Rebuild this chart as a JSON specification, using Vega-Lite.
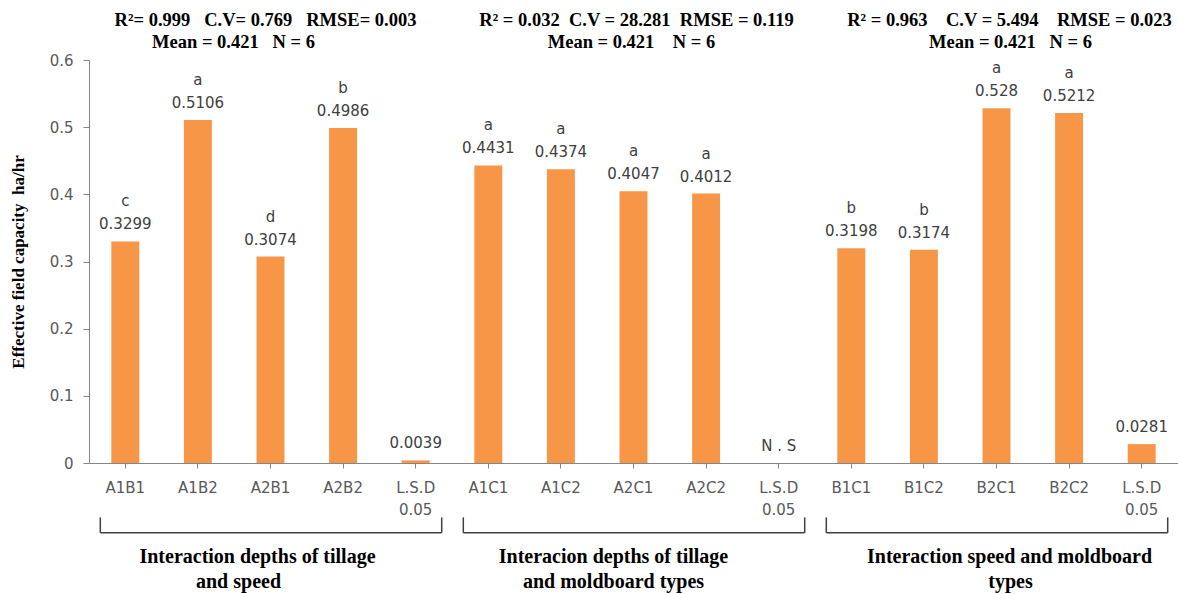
{
  "$schema": "https://vega.github.io/schema/vega-lite/v6.json",
  "width": 1089,
  "height": 403,
  "autosize": {"type": "none"},
  "padding": {"left": 89, "top": 60, "right": 0, "bottom": 131},
  "background": "white",
  "config": {"view": {"stroke": null}},
  "datasets": {
    "bars": [
      {"key": "A1B1", "value": 0.3299, "letter": "c", "text": "0.3299"},
      {"key": "A1B2", "value": 0.5106, "letter": "a", "text": "0.5106"},
      {"key": "A2B1", "value": 0.3074, "letter": "d", "text": "0.3074"},
      {"key": "A2B2", "value": 0.4986, "letter": "b", "text": "0.4986"},
      {"key": "LSD1", "value": 0.0039, "letter": "", "text": "0.0039"},
      {"key": "A1C1", "value": 0.4431, "letter": "a", "text": "0.4431"},
      {"key": "A1C2", "value": 0.4374, "letter": "a", "text": "0.4374"},
      {"key": "A2C1", "value": 0.4047, "letter": "a", "text": "0.4047"},
      {"key": "A2C2", "value": 0.4012, "letter": "a", "text": "0.4012"},
      {"key": "LSD2", "value": 0, "letter": "", "text": "N . S"},
      {"key": "B1C1", "value": 0.3198, "letter": "b", "text": "0.3198"},
      {"key": "B1C2", "value": 0.3174, "letter": "b", "text": "0.3174"},
      {"key": "B2C1", "value": 0.528, "letter": "a", "text": "0.528"},
      {"key": "B2C2", "value": 0.5212, "letter": "a", "text": "0.5212"},
      {"key": "LSD3", "value": 0.0281, "letter": "", "text": "0.0281"}
    ],
    "groups": [
      {"group": "g1", "first": "A1B1", "last": "LSD1", "mid": "A2B1",
       "t1": "Interaction depths of tillage", "t2": "and speed",
       "s1": "R²= 0.999\u00a0\u00a0 C.V= 0.769\u00a0\u00a0 RMSE= 0.003", "s2": "Mean = 0.421\u00a0\u00a0 N = 6"},
      {"group": "g2", "first": "A1C1", "last": "LSD2", "mid": "A2C1",
       "t1": "Interacion depths of tillage", "t2": "and moldboard types",
       "s1": "R² = 0.032\u00a0 C.V = 28.281\u00a0 RMSE = 0.119", "s2": "Mean = 0.421\u00a0\u00a0\u00a0 N = 6"},
      {"group": "g3", "first": "B1C1", "last": "LSD3", "mid": "B2C1",
       "t1": "Interaction speed and moldboard", "t2": "types",
       "s1": "R² = 0.963\u00a0\u00a0\u00a0 C.V = 5.494\u00a0\u00a0\u00a0 RMSE = 0.023", "s2": "Mean = 0.421\u00a0\u00a0 N = 6"}
    ]
  },
  "layer": [
    {
      "data": {"name": "bars"},
      "mark": {"type": "bar", "color": "#F79646"},
      "encoding": {
        "x": {
          "field": "key", "type": "nominal", "sort": null,
          "scale": {"paddingInner": 0.615, "paddingOuter": 0.3075},
          "axis": {
            "title": null,
            "labelAngle": 0,
            "labelExpr": "indexof(datum.value,'LSD')==0 ? ['L.S.D','0.05'] : datum.value",
            "labelFont": "DejaVu Sans", "labelFontSize": 15, "labelColor": "#595959",
            "labelLineHeight": 22, "labelPadding": 12,
            "domainColor": "#868686", "tickColor": "#868686", "tickSize": 5
          }
        },
        "y": {
          "field": "value", "type": "quantitative",
          "scale": {"domain": [0, 0.6], "nice": false, "zero": true},
          "axis": {
            "title": "Effective field capacity\u00a0 ha/hr",
            "titleFont": "Liberation Serif", "titleFontSize": 17, "titleFontWeight": "bold",
            "titleColor": "#000000", "titlePadding": 22,
            "values": [0, 0.1, 0.2, 0.3, 0.4, 0.5, 0.6],
            "labelExpr": "datum.value == 0 ? '0' : format(datum.value, '.1f')",
            "grid": false,
            "labelFont": "DejaVu Sans", "labelFontSize": 15, "labelColor": "#595959",
            "labelPadding": 10,
            "domainColor": "#868686", "tickColor": "#868686", "tickSize": 6
          }
        }
      }
    },
    {
      "data": {"name": "bars"},
      "mark": {"type": "text", "font": "DejaVu Sans", "fontSize": 15, "color": "#404040", "baseline": "alphabetic", "dy": -12},
      "encoding": {
        "x": {"field": "key", "type": "nominal", "sort": null},
        "y": {"field": "value", "type": "quantitative"},
        "text": {"field": "text"}
      }
    },
    {
      "data": {"name": "bars"},
      "mark": {"type": "text", "font": "DejaVu Sans", "fontSize": 15, "color": "#404040", "baseline": "alphabetic", "dy": -35},
      "encoding": {
        "x": {"field": "key", "type": "nominal", "sort": null},
        "y": {"field": "value", "type": "quantitative"},
        "text": {"field": "letter"}
      }
    },
    {
      "data": {"name": "groups"},
      "mark": {"type": "rule", "color": "#404040", "strokeWidth": 1.5, "xOffset": -25, "x2Offset": 26},
      "encoding": {
        "x": {"field": "first", "type": "nominal", "sort": null},
        "x2": {"field": "last"},
        "y": {"datum": -0.104}
      }
    },
    {
      "data": {"name": "groups"},
      "mark": {"type": "rule", "color": "#404040", "strokeWidth": 1.5, "xOffset": -25},
      "encoding": {
        "x": {"field": "first", "type": "nominal", "sort": null},
        "y": {"datum": -0.081},
        "y2": {"datum": -0.104}
      }
    },
    {
      "data": {"name": "groups"},
      "mark": {"type": "rule", "color": "#404040", "strokeWidth": 1.5, "xOffset": 26},
      "encoding": {
        "x": {"field": "last", "type": "nominal", "sort": null},
        "y": {"datum": -0.081},
        "y2": {"datum": -0.104}
      }
    },
    {
      "data": {"name": "groups"},
      "transform": [{"filter": "datum.group == 'g1'"}],
      "mark": {"type": "text", "font": "Liberation Serif", "fontSize": 20, "fontWeight": "bold", "color": "#000000", "baseline": "middle", "dx": -13},
      "encoding": {"x": {"field": "mid", "type": "nominal", "sort": null}, "y": {"datum": -0.140}, "text": {"field": "t1"}}
    },
    {
      "data": {"name": "groups"},
      "transform": [{"filter": "datum.group == 'g1'"}],
      "mark": {"type": "text", "font": "Liberation Serif", "fontSize": 20, "fontWeight": "bold", "color": "#000000", "baseline": "middle", "dx": -32},
      "encoding": {"x": {"field": "mid", "type": "nominal", "sort": null}, "y": {"datum": -0.1772}, "text": {"field": "t2"}}
    },
    {
      "data": {"name": "groups"},
      "transform": [{"filter": "datum.group == 'g2'"}],
      "mark": {"type": "text", "font": "Liberation Serif", "fontSize": 20, "fontWeight": "bold", "color": "#000000", "baseline": "middle", "dx": -20},
      "encoding": {"x": {"field": "mid", "type": "nominal", "sort": null}, "y": {"datum": -0.140}, "text": {"field": "t1"}}
    },
    {
      "data": {"name": "groups"},
      "transform": [{"filter": "datum.group == 'g2'"}],
      "mark": {"type": "text", "font": "Liberation Serif", "fontSize": 20, "fontWeight": "bold", "color": "#000000", "baseline": "middle", "dx": -20},
      "encoding": {"x": {"field": "mid", "type": "nominal", "sort": null}, "y": {"datum": -0.1772}, "text": {"field": "t2"}}
    },
    {
      "data": {"name": "groups"},
      "transform": [{"filter": "datum.group == 'g3'"}],
      "mark": {"type": "text", "font": "Liberation Serif", "fontSize": 20, "fontWeight": "bold", "color": "#000000", "baseline": "middle", "dx": 13},
      "encoding": {"x": {"field": "mid", "type": "nominal", "sort": null}, "y": {"datum": -0.140}, "text": {"field": "t1"}}
    },
    {
      "data": {"name": "groups"},
      "transform": [{"filter": "datum.group == 'g3'"}],
      "mark": {"type": "text", "font": "Liberation Serif", "fontSize": 20, "fontWeight": "bold", "color": "#000000", "baseline": "middle", "dx": 14},
      "encoding": {"x": {"field": "mid", "type": "nominal", "sort": null}, "y": {"datum": -0.1772}, "text": {"field": "t2"}}
    },
    {
      "data": {"name": "groups"},
      "transform": [{"filter": "datum.group == 'g1'"}],
      "mark": {"type": "text", "font": "Liberation Serif", "fontSize": 18.5, "fontWeight": "bold", "color": "#000000", "baseline": "middle", "dx": -5},
      "encoding": {"x": {"field": "mid", "type": "nominal", "sort": null}, "y": {"datum": 0.6596}, "text": {"field": "s1"}}
    },
    {
      "data": {"name": "groups"},
      "transform": [{"filter": "datum.group == 'g1'"}],
      "mark": {"type": "text", "font": "Liberation Serif", "fontSize": 18.5, "fontWeight": "bold", "color": "#000000", "baseline": "middle", "dx": -37},
      "encoding": {"x": {"field": "mid", "type": "nominal", "sort": null}, "y": {"datum": 0.6268}, "text": {"field": "s2"}}
    },
    {
      "data": {"name": "groups"},
      "transform": [{"filter": "datum.group == 'g2'"}],
      "mark": {"type": "text", "font": "Liberation Serif", "fontSize": 18.5, "fontWeight": "bold", "color": "#000000", "baseline": "middle", "dx": 3},
      "encoding": {"x": {"field": "mid", "type": "nominal", "sort": null}, "y": {"datum": 0.6596}, "text": {"field": "s1"}}
    },
    {
      "data": {"name": "groups"},
      "transform": [{"filter": "datum.group == 'g2'"}],
      "mark": {"type": "text", "font": "Liberation Serif", "fontSize": 18.5, "fontWeight": "bold", "color": "#000000", "baseline": "middle", "dx": -2},
      "encoding": {"x": {"field": "mid", "type": "nominal", "sort": null}, "y": {"datum": 0.6268}, "text": {"field": "s2"}}
    },
    {
      "data": {"name": "groups"},
      "transform": [{"filter": "datum.group == 'g3'"}],
      "mark": {"type": "text", "font": "Liberation Serif", "fontSize": 18.5, "fontWeight": "bold", "color": "#000000", "baseline": "middle", "dx": 13},
      "encoding": {"x": {"field": "mid", "type": "nominal", "sort": null}, "y": {"datum": 0.6596}, "text": {"field": "s1"}}
    },
    {
      "data": {"name": "groups"},
      "transform": [{"filter": "datum.group == 'g3'"}],
      "mark": {"type": "text", "font": "Liberation Serif", "fontSize": 18.5, "fontWeight": "bold", "color": "#000000", "baseline": "middle", "dx": 14},
      "encoding": {"x": {"field": "mid", "type": "nominal", "sort": null}, "y": {"datum": 0.6268}, "text": {"field": "s2"}}
    }
  ]
}
